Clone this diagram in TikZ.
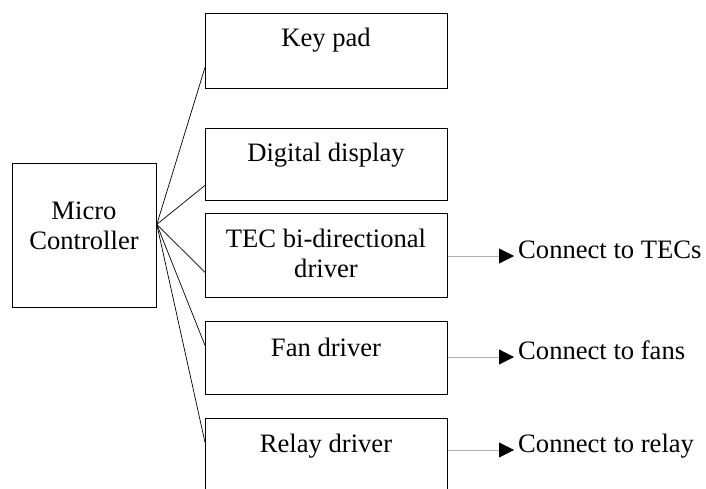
\documentclass[tikz,border=0pt]{standalone}
\usepackage{fontspec}
\setmainfont{Liberation Serif}
\usetikzlibrary{positioning,
				arrows.meta}

\begin{document}
\begin{tikzpicture}[x=1pt, y=-1pt,
	box/.style={draw, line width=.8pt, anchor=north west, inner sep=0pt, minimum width=242pt},
	txt/.style={align=center, font=\fontsize{26.6}{30}\selectfont},
	outtxt/.style={anchor=west, inner xsep=4pt, text height=.7em, text depth=.2em, font=\fontsize{26.6}{30}\selectfont},
	wire/.style={line width=.7pt},
	feed/.style={draw=black!30, line width=.8pt, -{Triangle[length=15pt, width=15pt, color=black]}}]
	\useasboundingbox (0,0) rectangle (706,489);
	\clip (0,0) rectangle (706,489);
	% boxes
	\node[box, minimum width=144pt, minimum height=144pt] (micro) at (12,163) {};
	\node[box, minimum height=75pt] (keypad) at (205,13) {};
	\node[box, minimum height=72pt] (display) at (205,128) {};
	\node[box, minimum height=84pt] (tec) at (205,213) {};
	\node[box, minimum height=73pt] (fan) at (205,321) {};
	\node[box, minimum height=90pt] (relay) at (205,418) {};
	% texts
	\node[txt] (microtxt) at (84,226) {Micro\\Controller};
	\node[txt] (keypadtxt) at (326,40) {Key pad};
	\node[txt] (displaytxt) at (326,155) {Digital display};
	\node[txt] (tectxt) at (326,253) {TEC bi-directional\\driver};
	\node[txt] (fantxt) at (326,347) {Fan driver};
	\node[txt] (relaytxt) at (326,446) {Relay driver};
	% outputs
	\node[outtxt] (tecout) at (514,256) {Connect to TECs};
	\node[outtxt] (fanout) at (514,357) {Connect to fans};
	\node[outtxt] (relayout) at (514,450) {Connect to relay};
	% wires
	\coordinate (hub) at ([yshift=11pt]micro.east);
	\draw[wire] (hub) -- ([yshift=-16.5pt]keypad.west);
	\draw[wire] (hub) -- ([yshift=-21pt]display.west);
	\draw[wire] (hub) -- ([yshift=-17pt]tec.west);
	\draw[wire] (hub) -- ([yshift=12.5pt]fan.west);
	\draw[wire] (hub) -- ([yshift=21pt]relay.west);
	\draw[feed] (tecout.west -| tec.east) -- (tecout.west);
	\draw[feed] (fanout.west -| fan.east) -- (fanout.west);
	\draw[feed] (relayout.west -| relay.east) -- (relayout.west);
\end{tikzpicture}
\end{document}
